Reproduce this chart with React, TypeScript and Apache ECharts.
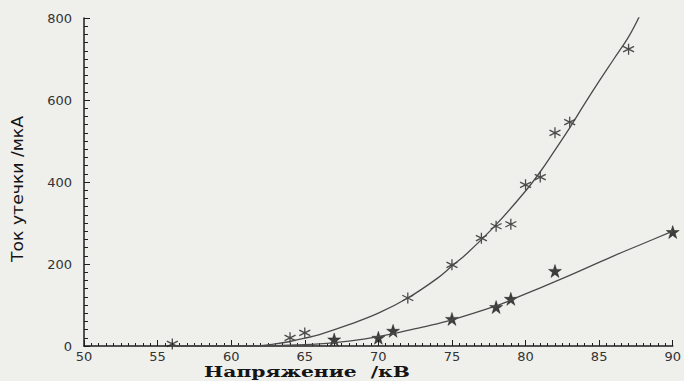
import React, { useEffect, useRef } from "react";
import * as echarts from "echarts";

// Axis ticks
const xTickValues = [50, 55, 60, 65, 70, 75, 80, 85, 90];
const yTickValues = [0, 200, 400, 600, 800];
const minorPerMajor = 10;

// Measured points (asterisks)
const asteriskPoints: [number, number][] = [
  [56, 5], [64, 20], [65, 32], [72, 117], [75, 198], [77, 263], [78, 292],
  [79, 297], [80, 393], [81, 412], [82, 520], [83, 546], [87, 724],
];

// Measured points (filled stars)
const starPoints: [number, number][] = [
  [67, 16], [70, 20], [71, 37], [75, 66], [78, 95], [79, 115], [82, 183], [90, 278],
];

// Fitted curve through asterisks
const upperCurve: [number, number][] = [
  [56, 0], [58, 0], [60, 0], [62, 1], [63, 5], [64, 11], [65, 19], [66, 28],
  [68, 52], [70, 80], [72, 117], [74, 165], [75, 195], [76, 225], [78, 296],
  [80, 378], [81, 425], [82, 478], [83, 532], [84, 590], [85, 646], [86, 700],
  [87, 754], [87.75, 805],
];

// Fitted curve through stars
const lowerCurve: [number, number][] = [
  [56, 0], [60, 0], [63, 1], [65, 3], [66, 5], [67, 8], [68, 12], [69, 17],
  [70, 23], [71, 30], [72, 38], [73, 46], [75, 64], [78, 98], [79, 112],
  [80, 127], [82, 157], [84, 188], [86, 220], [88, 250], [90, 280],
];

const asteriskPath = "path://M5 0L5 10M0.67 2.5L9.33 7.5M0.67 7.5L9.33 2.5";
const starPath =
  "path://M50 0L61.8 35.3L99 35.3L68.9 57.3L80.4 92.7L50 70.8L19.6 92.7L31.1 57.3L1 35.3L38.2 35.3Z";

export default function App() {
  const ref = useRef<HTMLDivElement>(null);

  useEffect(() => {
    if (!ref.current) return;
    const chart = echarts.init(ref.current, null, { renderer: "svg" });
    const axisColor = "#1e1e1e";
    chart.setOption({
      animation: false,
      backgroundColor: "#efefec",
      grid: { left: 84, right: 8, top: 18, bottom: 35, containLabel: false },
      xAxis: {
        type: "value",
        min: xTickValues[0],
        max: xTickValues[xTickValues.length - 1],
        interval: 5,
        axisLine: { show: true, lineStyle: { color: axisColor, width: 1.5 } },
        axisTick: { show: true, inside: true, length: 6, lineStyle: { color: axisColor } },
        minorTick: { show: true, splitNumber: minorPerMajor, length: 3, lineStyle: { color: axisColor, width: 1 } },
        splitLine: { show: false },
        axisLabel: {
          color: "#333",
          fontFamily: "DejaVu Sans",
          fontSize: 13,
          margin: 4,
        },
      },
      yAxis: {
        type: "value",
        min: yTickValues[0],
        max: yTickValues[yTickValues.length - 1],
        interval: 200,
        axisLine: { show: true, lineStyle: { color: axisColor, width: 1.5 } },
        axisTick: { show: true, inside: true, length: 6, lineStyle: { color: axisColor } },
        minorTick: { show: true, splitNumber: minorPerMajor, length: 4, lineStyle: { color: axisColor, width: 1 } },
        splitLine: { show: false },
        axisLabel: {
          color: "#333",
          fontFamily: "DejaVu Sans",
          fontSize: 13,
          margin: 12,
        },
      },
      graphic: [
        {
          type: "text",
          x: 307,
          y: 372,
          scaleX: 1.45,
          style: {
            text: "Напряжение  /кВ",
            font: 'bold 14px "DejaVu Serif"',
            fill: "#151515",
            textAlign: "center",
            textVerticalAlign: "middle",
          },
        },
        {
          type: "text",
          x: 18,
          y: 189,
          rotation: Math.PI / 2,
          scaleX: 1.15,
          style: {
            text: "Ток утечки /мкА",
            font: '15px "DejaVu Sans"',
            fill: "#151515",
            textAlign: "center",
            textVerticalAlign: "middle",
          },
        },
      ],
      series: [
        {
          name: "upper fit",
          type: "line",
          data: upperCurve,
          smooth: 0.4,
          showSymbol: false,
          lineStyle: { color: "#4a4a4a", width: 1.3 },
        },
        {
          name: "lower fit",
          type: "line",
          data: lowerCurve,
          smooth: 0.4,
          showSymbol: false,
          lineStyle: { color: "#4a4a4a", width: 1.3 },
        },
        {
          name: "asterisks",
          type: "scatter",
          data: asteriskPoints,
          symbol: asteriskPath,
          symbolSize: 11,
          itemStyle: { color: "#222", borderColor: "#222", borderWidth: 1.3 },
        },
        {
          name: "stars",
          type: "scatter",
          data: starPoints,
          symbol: starPath,
          symbolSize: 13,
          itemStyle: { color: "#111", borderColor: "#111", borderWidth: 0.5 },
        },
      ],
    });
    return () => chart.dispose();
  }, []);

  return (
    <div style={{ position: "fixed", left: 0, top: 0, width: 684, height: 381 }}>
      <div ref={ref} style={{ width: 684, height: 381 }} />
    </div>
  );
}
